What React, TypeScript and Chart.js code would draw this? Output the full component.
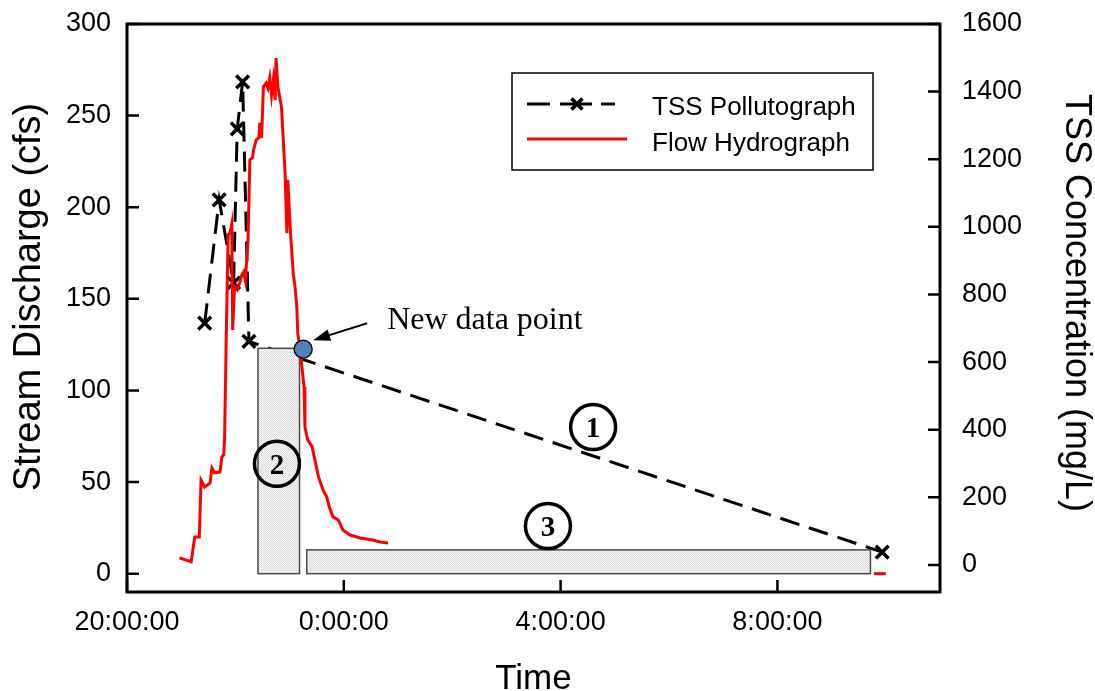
import React, { useEffect, useRef } from 'react';
import { Chart, registerables } from 'chart.js';

Chart.register(...registerables);

// ---- data ----
const flowTimes = [
  '20:58', '21:11', '21:15', '21:20', '21:22', '21:26', '21:32', '21:34', '21:37', '21:43',
  '21:45', '21:47', '21:48', '21:50', '21:52', '21:54', '21:56', '21:57', '21:59', '22:02',
  '22:05', '22:07', '22:09', '22:11', '22:14', '22:16', '22:19', '22:20', '22:23', '22:26',
  '22:27', '22:29', '22:31', '22:34', '22:36', '22:38', '22:40', '22:42', '22:44', '22:45',
  '22:47', '22:51', '22:55', '22:57', '22:58', '23:01', '23:04', '23:06', '23:08', '23:09',
  '23:11', '23:16', '23:17', '23:20', '23:25', '23:28', '23:32', '23:37', '23:41', '23:44',
  '23:48', '23:54', '23:59', '0:07', '0:18', '0:32', '0:40', '0:49',
];
const flowCfs = [
  8.6, 6.5, 20, 20, 51, 47.3, 49.5, 57.7, 55, 55.5,
  63.7, 64.8, 73, 133, 185, 186, 191, 133, 156.5, 155,
  159, 163, 164.6, 160, 182, 225.8, 227, 231, 236.7, 238,
  246, 237.8, 265.7, 267.7, 265, 270.5, 261, 269.5, 258.5, 281.4,
  265.7, 254.8, 218.8, 186, 215, 186, 164, 156.5, 145.6, 131.4,
  124.8, 101.9, 80, 73, 69.2, 62, 52.8, 45.7, 41.9, 36.4,
  31, 29.3, 23.9, 21.1, 19.5, 18.4, 17.3, 16.8,
];
const flowTailTimes = ['9:47', '10:00'];
const flowTailCfs = [0, 0];

const tssTimes = ['21:26', '21:42', '21:58', '22:02', '22:08', '22:15', '9:56'];
const tssMgL = [715, 1080, 834, 1290, 1429, 661, 38];

const newPointTimes = ['23:15'];
const newPointCfs = [122.5];

const boxStart = ['22:25', '23:19'];
const boxEnd = ['23:11', '9:43'];
const boxTopCfs = [123, 13];

const circleLabels = ['1', '2', '3'];
const circleTimes = ['4:36', '22:46', '3:46'];
const circleCfs = [80, 60, 26];

const xTickTimes = ['20:00', '0:00', '4:00', '8:00'];
const xTickLabels = ['20:00:00', '0:00:00', '4:00:00', '8:00:00'];

const seriesLabels = ['TSS Pollutograph', 'Flow Hydrograph'];
const annotationText = 'New data point';
const xTitle = 'Time';
const yTitle = 'Stream Discharge (cfs)';
const y1Title = 'TSS Concentration (mg/L)';

// hours elapsed since 20:00
const toH = (t: string) => {
  const [h, m] = t.split(':').map(Number);
  return ((h - 20 + 24) % 24) + m / 60;
};

const SANS = '"Liberation Sans", Arial, Helvetica, sans-serif';
const SERIF = '"Liberation Serif", "Times New Roman", serif';

let patternCache: CanvasPattern | null = null;
function getPattern(ctx: CanvasRenderingContext2D) {
  if (patternCache) return patternCache;
  const c = document.createElement('canvas');
  c.width = 2; c.height = 2;
  const p = c.getContext('2d')!;
  p.fillStyle = '#f6f6f6'; p.fillRect(0, 0, 2, 2);
  p.fillStyle = '#dcdcdc'; p.fillRect(0, 0, 1, 1); p.fillRect(1, 1, 1, 1);
  patternCache = ctx.createPattern(c, 'repeat');
  return patternCache;
}

const drawCross = (ctx: CanvasRenderingContext2D, x: number, y: number, r: number, w: number) => {
  ctx.save();
  ctx.strokeStyle = '#000'; ctx.lineWidth = w; ctx.setLineDash([]);
  ctx.beginPath();
  ctx.moveTo(x - r, y - r); ctx.lineTo(x + r, y + r);
  ctx.moveTo(x + r, y - r); ctx.lineTo(x - r, y + r);
  ctx.stroke();
  ctx.restore();
};

const customPlugin = {
  id: 'custom',
  afterDatasetDraw(chart: any, args: any) {
    if (args.index !== 0) return;
    const ctx = chart.ctx as CanvasRenderingContext2D;
    const xs = chart.scales.x, ys = chart.scales.y;
    ctx.save();
    boxStart.forEach((s, i) => {
      const x0 = xs.getPixelForValue(toH(s));
      const x1 = xs.getPixelForValue(toH(boxEnd[i]));
      const y0 = ys.getPixelForValue(boxTopCfs[i]);
      const y1 = ys.getPixelForValue(0);
      ctx.fillStyle = getPattern(ctx) as any;
      ctx.fillRect(x0, y0, x1 - x0, y1 - y0);
      ctx.strokeStyle = '#4a4a4a';
      ctx.lineWidth = 1.5;
      ctx.strokeRect(x0, y0, x1 - x0, y1 - y0);
    });
    ctx.restore();
  },
  afterDraw(chart: any) {
    const ctx = chart.ctx as CanvasRenderingContext2D;
    const area = chart.chartArea;
    const xs = chart.scales.x, ys = chart.scales.y, y1s = chart.scales.y1;
    ctx.save();
    // frame
    ctx.strokeStyle = '#000';
    ctx.lineWidth = 3;
    ctx.strokeRect(area.left, area.top, area.right - area.left, area.bottom - area.top);
    // inward ticks
    ctx.lineWidth = 2.5;
    ctx.beginPath();
    xs.ticks.forEach((t: any) => {
      const p = xs.getPixelForValue(t.value);
      ctx.moveTo(p, area.bottom); ctx.lineTo(p, area.bottom - 12);
    });
    ys.ticks.forEach((t: any) => {
      const p = ys.getPixelForValue(t.value);
      ctx.moveTo(area.left, p); ctx.lineTo(area.left + 12, p);
    });
    y1s.ticks.forEach((t: any) => {
      const p = y1s.getPixelForValue(t.value);
      ctx.moveTo(area.right, p); ctx.lineTo(area.right - 12, p);
    });
    ctx.stroke();

    // circled numbers
    circleLabels.forEach((lab, i) => {
      const cx = xs.getPixelForValue(toH(circleTimes[i]));
      const cy = ys.getPixelForValue(circleCfs[i]);
      ctx.beginPath();
      ctx.lineWidth = 3.5;
      ctx.strokeStyle = '#000';
      ctx.arc(cx, cy, 22.5, 0, Math.PI * 2);
      ctx.stroke();
      ctx.fillStyle = '#000';
      ctx.font = `bold 29px ${SERIF}`;
      ctx.textAlign = 'center';
      ctx.textBaseline = 'alphabetic';
      ctx.fillText(lab, cx, cy + 10);
    });

    // annotation for new data point
    const px = xs.getPixelForValue(toH(newPointTimes[0]));
    const py = ys.getPixelForValue(newPointCfs[0]);
    ctx.fillStyle = '#000';
    ctx.font = `32px ${SERIF}`;
    ctx.textAlign = 'left';
    ctx.textBaseline = 'alphabetic';
    ctx.fillText(annotationText, px + 84, py - 20);
    const tx = px + 10, ty = py - 9;
    const sx = px + 64, sy = py - 26;
    const ang = Math.atan2(ty - sy, tx - sx);
    ctx.strokeStyle = '#000';
    ctx.lineWidth = 2;
    ctx.beginPath();
    ctx.moveTo(sx, sy);
    ctx.lineTo(tx - 12 * Math.cos(ang), ty - 12 * Math.sin(ang));
    ctx.stroke();
    ctx.beginPath();
    ctx.moveTo(tx, ty);
    ctx.lineTo(tx - 17 * Math.cos(ang) + 6 * Math.sin(ang), ty - 17 * Math.sin(ang) - 6 * Math.cos(ang));
    ctx.lineTo(tx - 17 * Math.cos(ang) - 6 * Math.sin(ang), ty - 17 * Math.sin(ang) + 6 * Math.cos(ang));
    ctx.closePath();
    ctx.fill();

    // legend
    const lx = 512, ly = 73, lw = 361, lh = 97;
    ctx.fillStyle = '#fff';
    ctx.fillRect(lx, ly, lw, lh);
    ctx.strokeStyle = '#000';
    ctx.lineWidth = 1.5;
    ctx.strokeRect(lx, ly, lw, lh);
    ctx.lineWidth = 3;
    ctx.beginPath();
    ctx.moveTo(527, 104); ctx.lineTo(550, 104);
    ctx.moveTo(560, 104); ctx.lineTo(592, 104);
    ctx.moveTo(601, 104); ctx.lineTo(615, 104);
    ctx.stroke();
    drawCross(ctx, 577, 104, 5.5, 3.5);
    ctx.strokeStyle = '#ff0000';
    ctx.beginPath();
    ctx.moveTo(527, 139); ctx.lineTo(627, 139);
    ctx.stroke();
    ctx.fillStyle = '#000';
    ctx.font = `26px ${SANS}`;
    ctx.textAlign = 'left';
    ctx.fillText(seriesLabels[0], 652, 115);
    ctx.fillText(seriesLabels[1], 652, 151);

    // axis titles
    ctx.textAlign = 'center';
    ctx.textBaseline = 'middle';
    ctx.font = `38px ${SANS}`;
    ctx.save();
    ctx.translate(30, 297);
    ctx.rotate(-Math.PI / 2);
    ctx.fillText(yTitle, 0, 0);
    ctx.restore();
    ctx.font = `36px ${SANS}`;
    ctx.save();
    ctx.translate(1076, 303);
    ctx.rotate(Math.PI / 2);
    ctx.fillText(y1Title, 0, 0);
    ctx.restore();
    ctx.font = `35px ${SANS}`;
    ctx.textBaseline = 'alphabetic';
    ctx.fillText(xTitle, (area.left + area.right) / 2, 689);
    ctx.restore();
  },
};

export default function App() {
  const ref = useRef<HTMLCanvasElement>(null);
  useEffect(() => {
    document.body.style.margin = '0';
    const xTickVals = xTickTimes.map(toH);
    const chart = new Chart(ref.current!, {
      type: 'line',
      data: {
        datasets: [
          {
            label: seriesLabels[0],
            data: tssTimes.map((t, i) => ({ x: toH(t), y: tssMgL[i] })),
            yAxisID: 'y1',
            borderColor: '#000',
            borderWidth: 3,
            borderDash: [20, 10],
            pointStyle: 'crossRot',
            pointRadius: 9,
            pointBorderWidth: 3.5,
            pointBorderColor: '#000',
            tension: 0,
            order: 3,
          } as any,
          {
            label: seriesLabels[1],
            data: flowTimes.map((t, i) => ({ x: toH(t), y: flowCfs[i] })),
            yAxisID: 'y',
            borderColor: '#ff0000',
            borderWidth: 3,
            pointRadius: 0,
            tension: 0,
            order: 2,
          },
          {
            label: seriesLabels[1] + ' (end)',
            data: flowTailTimes.map((t, i) => ({ x: toH(t), y: flowTailCfs[i] })),
            yAxisID: 'y',
            borderColor: '#ff0000',
            borderWidth: 3,
            pointRadius: 0,
            tension: 0,
            order: 2,
          },
          {
            label: annotationText,
            data: newPointTimes.map((t, i) => ({ x: toH(t), y: newPointCfs[i] })),
            yAxisID: 'y',
            showLine: false,
            pointRadius: 9,
            pointBackgroundColor: '#4f81bd',
            pointBorderColor: '#111',
            pointBorderWidth: 1.5,
            order: 1,
          },
        ],
      },
      options: {
        animation: false,
        responsive: false,
        layout: { padding: { top: 24, left: 0, right: 0, bottom: 0 } },
        plugins: { legend: { display: false }, tooltip: { enabled: false } },
        scales: {
          x: {
            type: 'linear',
            min: 0,
            max: 15,
            afterFit: (s: any) => { s.height = 99; s.paddingLeft = 0; s.paddingRight = 0; },
            afterBuildTicks: (s: any) => { s.ticks = xTickVals.map((v) => ({ value: v })); },
            grid: { display: false, drawTicks: false },
            border: { display: false },
            ticks: {
              color: '#000',
              padding: 14,
              maxRotation: 0,
              autoSkip: false,
              font: { family: SANS, size: 27 },
              callback: (v: any) => {
                const i = xTickVals.findIndex((t) => Math.abs(t - v) < 1e-6);
                return i >= 0 ? xTickLabels[i] : '';
              },
            },
          },
          y: {
            type: 'linear',
            position: 'left',
            min: -10,
            max: 300,
            afterFit: (s: any) => { s.width = 127; s.paddingTop = 0; s.paddingBottom = 0; },
            grid: { display: false, drawTicks: false },
            border: { display: false },
            ticks: {
              stepSize: 50,
              includeBounds: false,
              color: '#000',
              padding: 16,
              font: { family: SANS, size: 27 },
              callback: (v: any) => String(v),
            },
          },
          y1: {
            type: 'linear',
            position: 'right',
            min: -80,
            max: 1600,
            afterFit: (s: any) => { s.width = 155; s.paddingTop = 0; s.paddingBottom = 0; },
            grid: { display: false, drawTicks: false },
            border: { display: false },
            ticks: {
              stepSize: 200,
              includeBounds: false,
              color: '#000',
              padding: 22,
              font: { family: SANS, size: 27 },
              callback: (v: any) => String(v),
            },
          },
        },
      } as any,
      plugins: [customPlugin],
    });
    return () => chart.destroy();
  }, []);
  return <canvas ref={ref} width={1095} height={691} style={{ display: 'block' }} />;
}
